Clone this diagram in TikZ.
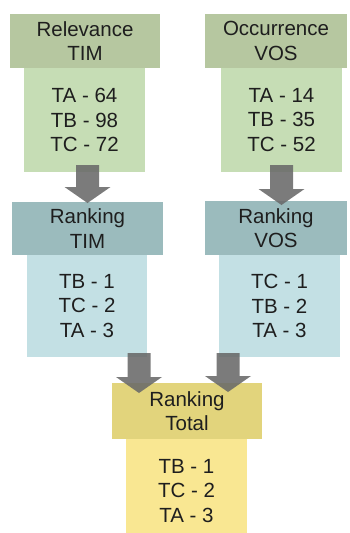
\documentclass[tikz,border=0pt]{standalone}
\usepackage{fontspec}
\setmainfont{Liberation Sans}
\usetikzlibrary{calc}
\definecolor{hgreen}{RGB}{182,199,160}
\definecolor{bgreen}{RGB}{198,221,181}
\definecolor{hteal}{RGB}{155,187,189}
\definecolor{bteal}{RGB}{195,224,228}
\definecolor{hyel}{RGB}{226,212,124}
\definecolor{byel}{RGB}{249,231,146}
\definecolor{arrowgray}{RGB}{105,105,105}
\definecolor{txt}{RGB}{30,30,30}
\tikzset{
  box/.style={inner sep=0pt, outer sep=0pt, align=center, text=txt,
    font=\fontsize{20.5pt}{24.5pt}\selectfont},
  arrowfill/.style={fill=arrowgray, fill opacity=0.88}
}
\newcommand\blockarrow[2]{%
  \fill[arrowfill] let \p1=(#1), \p2=(#2) in
    (\x2-11.5pt,\y1) -- (\x2-11.5pt,\y2+16pt) -- (\x2-23pt,\y2+16pt) --
    (\x2,\y2) -- (\x2+23pt,\y2+16pt) -- (\x2+11.5pt,\y2+16pt) --
    (\x2+11.5pt,\y1) -- cycle;}
\begin{document}
\begin{tikzpicture}[x=1pt,y=-1pt]
\useasboundingbox (0,0) rectangle (349,533);
\begin{scope}
\clip (0,0) rectangle (349,533);
% column 1
\node[box, fill=hgreen, minimum width=150pt, minimum height=54pt] (h1) at (85,41) {Relevance\\TIM};
\node[box, fill=bgreen, minimum width=121pt, minimum height=104pt] (b1) at (84.5,120) {TA - 64\\TB - 98\\TC - 72};
% column 2
\node[box, fill=hgreen, minimum width=142pt, minimum height=54pt] (h2) at (276,41) {Occurrence\\VOS};
\node[box, fill=bgreen, minimum width=121pt, minimum height=104pt] (b2) at (281.5,120) {TA - 14\\TB - 35\\TC - 52};
% ranking TIM
\node[box, fill=hteal, minimum width=151pt, minimum height=53pt] (h3) at (87.5,228.5) {Ranking\\TIM};
\node[box, fill=bteal, minimum width=120pt, minimum height=102pt] (b3) at (87,306) {TB - 1\\TC - 2\\TA - 3};
% ranking VOS
\node[box, fill=hteal, minimum width=142pt, minimum height=54pt] (h4) at (276,228) {Ranking\\VOS};
\node[box, fill=bteal, minimum width=121pt, minimum height=102pt] (b4) at (279.5,306) {TC - 1\\TB - 2\\TA - 3};
% ranking total
\node[box, fill=hyel, minimum width=150pt, minimum height=56pt] (h5) at (187,411) {Ranking\\Total};
\node[box, fill=byel, minimum width=121pt, minimum height=104pt] (b5) at (186.5,491) {TB - 1\\TC - 2\\TA - 3};
% arrows
\blockarrow{$(b1.south)+(0,-7)$}{$(h3.north)+(0,1)$}
\blockarrow{$(b2.south)+(0,-7)$}{$(h4.north)+(5.5,4)$}
\blockarrow{$(b3.south)+(0,-4)$}{$(h5.north)+(-48,10)$}
\blockarrow{$(b4.south)+(0,-4)$}{$(h5.north)+(41,9)$}
\end{scope}
\end{tikzpicture}
\end{document}
